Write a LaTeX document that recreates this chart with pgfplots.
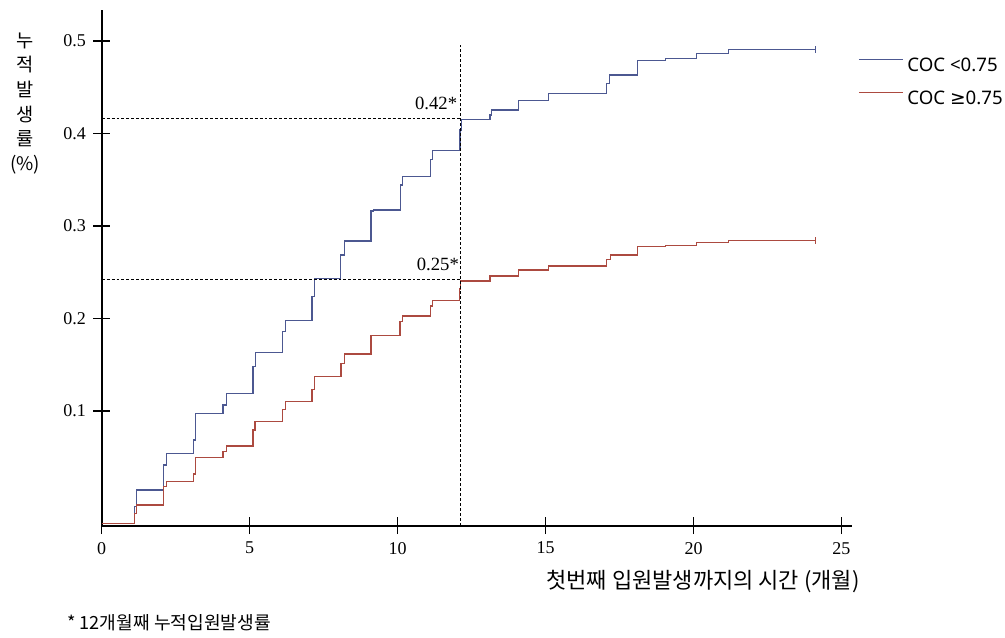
\documentclass[border=0pt]{standalone}
\usepackage{pgfplots}
\pgfplotsset{compat=1.18}
\usepackage{fontspec}
\setmainfont{Liberation Serif}
\newfontfamily\krfont{Noto Sans CJK KR}
\newfontfamily\legfont{Noto Sans}
\newfontfamily\symfont{DejaVu Sans}
\definecolor{cblue}{RGB}{76,88,145}
\definecolor{cred}{RGB}{172,74,64}
\begin{document}
\begin{tikzpicture}
\path[use as bounding box] (0pt,0pt) rectangle (753.75pt,477.75pt);
\begin{axis}[
  at={(76.275pt,83.475pt)}, anchor=south west,
  scale only axis, width=562.8pt, height=387.1pt,
  xmin=0, xmax=25.36, ymin=-0.024, ymax=0.534,
  axis lines=left, axis line style={-, line width=1.2pt},
  clip=false,
  tick align=center, major tick length=12.5pt,
  tick style={black, line width=1.1pt},
  xtick={0,5,10,15,20,25}, xticklabels={0,5,10,15,20,25},
  ytick={0.1,0.2,0.3,0.4,0.5}, yticklabels={0.1,0.2,0.3,0.4,0.5},
  ticklabel style={font=\fontsize{13.5}{16}\selectfont},
  xticklabel shift=2.5pt, yticklabel shift=2pt,
  legend style={at={(axis description cs:1.0079,0.859)}, anchor=west,
    draw=none, fill=none, inner sep=0pt, row sep=13pt, column sep=3pt,
    font=\legfont\fontsize{14}{16}\selectfont,
    nodes={inner sep=0pt}},
  legend cell align=left,
  legend image code/.code={\draw[#1, line width=0.8pt] (0pt,4.7pt) -- (33pt,4.7pt);},
]
\addplot[const plot, cblue, line width=0.9pt] coordinates {
(0,-0.022) (1.10,-0.0035) (1.18,0.0146) (2.10,0.0416) (2.19,0.0543)
(3.09,0.0686) (3.18,0.0975) (4.10,0.1065) (4.21,0.1191) (5.11,0.1479)
(5.20,0.1635) (6.12,0.1857) (6.21,0.1976) (7.11,0.2236) (7.20,0.2430)
(8.06,0.2686) (8.21,0.2838) (9.10,0.3162) (9.18,0.3173) (10.09,0.3443)
(10.17,0.3533) (11.10,0.3720) (11.17,0.3814) (12.11,0.4038) (12.17,0.4154)
(13.12,0.4200) (13.18,0.4254) (14.08,0.4355) (15.09,0.4435) (17.06,0.4540)
(17.16,0.4632) (18.10,0.4787) (19.05,0.4813) (20.09,0.4867) (21.18,0.4910)
(24.11,0.4910)};
\addlegendentry{COC <0.75}
\addplot[const plot, cred, line width=0.9pt] coordinates {
(0,-0.022) (1.10,-0.0106) (1.18,-0.0016) (2.10,0.0182) (2.20,0.0236)
(3.10,0.0319) (3.18,0.0500) (4.10,0.0560) (4.21,0.0622) (5.11,0.0795)
(5.18,0.0884) (6.10,0.1018) (6.21,0.1100) (7.11,0.1235) (7.20,0.1371)
(8.09,0.1516) (8.21,0.1616) (9.10,0.1814) (10.08,0.1965) (10.17,0.2027)
(11.10,0.2135) (11.18,0.2192) (12.08,0.2320) (12.13,0.2405) (13.12,0.2460)
(14.08,0.2524) (15.09,0.2568) (17.06,0.2640) (17.20,0.2686) (18.10,0.2776)
(19.05,0.2790) (20.09,0.2824) (21.18,0.2841) (24.11,0.2841)};
\addlegendentry{COC {\symfont ≥}0.75}
\addplot[forget plot, cblue, only marks, mark=|, mark size=2.5pt, mark options={line width=0.8pt}] coordinates {(24.11,0.4910)};
\addplot[forget plot, cred, only marks, mark=|, mark size=2.5pt, mark options={line width=0.8pt}] coordinates {(24.11,0.2841)};
\addplot[forget plot, black, line width=0.8pt, dash pattern=on 2.2pt off 1.5pt] coordinates {(0,0.4164) (12.14,0.4164)};
\addplot[forget plot, black, line width=0.8pt, dash pattern=on 2.2pt off 1.5pt] coordinates {(0,0.2424) (12.14,0.2424)};
\addplot[forget plot, black, line width=0.8pt, dash pattern=on 2.2pt off 1.5pt] coordinates {(12.14,-0.024) (12.14,0.496)};
\node[anchor=east, inner sep=0pt, font=\fontsize{14}{16}\selectfont] at (axis cs:12.02,0.433) {0.42*};
\node[anchor=east, inner sep=0pt, font=\fontsize{14}{16}\selectfont] at (axis cs:12.08,0.259) {0.25*};
\end{axis}
\begin{scope}[x=0.75pt,y=0.75pt]
\node[font=\krfont\fontsize{16.5}{18}\selectfont] at (703,55) {첫번째 입원발생까지의 시간 (개월)};
\node[anchor=west, inner sep=0pt, font=\krfont\fontsize{13.6}{15}\selectfont] at (67,14) {* 12개월째 누적입원발생률};
\node[align=center, inner sep=0pt, font=\krfont\fontsize{14}{18.5}\selectfont] at (25,533.5) {누\\적\\발\\생\\률\\(\%)};
\end{scope}
\end{tikzpicture}
\end{document}
